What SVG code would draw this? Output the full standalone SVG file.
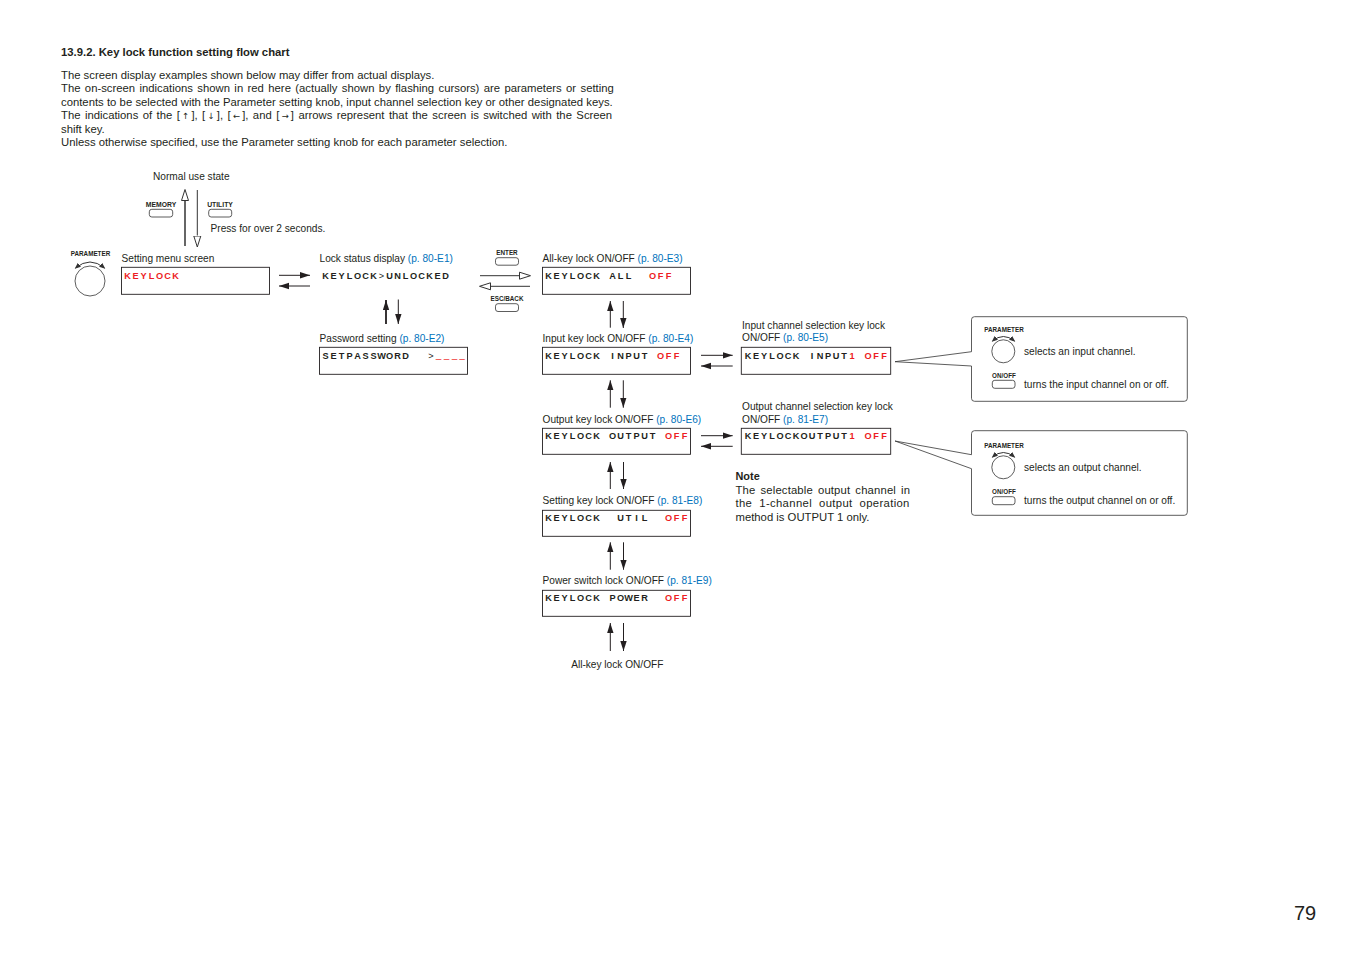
<svg xmlns="http://www.w3.org/2000/svg" width="1350" height="954" viewBox="0 0 1350 954">
<style>
text{font-family:"Liberation Sans",Arial,sans-serif;fill:#231f20;font-size:10.15px}
.b{font-weight:bold}
.body{font-size:11.3px}
.ar{font-family:"DejaVu Sans",sans-serif;font-size:8.5px}
.blue{fill:#0072bc}
.red{fill:#ed1c24}
.us{fill:#ed1c24;stroke:#ed1c24;stroke-width:.35}
.lcd{font-weight:bold;font-size:9.2px;text-anchor:middle}
.thin{font-weight:normal}
.key{font-weight:bold;font-size:6.3px;text-anchor:middle}
.key2{font-size:6.8px}
.box{fill:#fff;stroke:#231f20;stroke-width:.9}
.btn{fill:#fff;stroke:#333;stroke-width:.8}
.knob{fill:#fff;stroke:#333;stroke-width:.8}
.arc{fill:none;stroke:#333;stroke-width:1;marker-start:url(#sm);marker-end:url(#sm)}
.call{fill:#fff;stroke:#333;stroke-width:.8}
.s{fill:none;stroke:#231f20;stroke-width:1;marker-end:url(#solid)}
.th{stroke-width:1.8}
.h{fill:none;stroke:#333;stroke-width:1;marker-end:url(#hollow)}
.hg{fill:none;stroke:#666;stroke-width:2;marker-end:url(#hollow)}
</style>
<defs>
<marker id="solid" markerUnits="userSpaceOnUse" markerWidth="11" markerHeight="8" refX="10" refY="3.5" orient="auto"><path d="M0,0.3 L10,3.5 L0,6.7 z" fill="#231f20"/></marker>
<marker id="hollow" markerUnits="userSpaceOnUse" markerWidth="14" markerHeight="10" refX="0" refY="4.5" orient="auto"><path d="M.5,1 L11.5,4.5 L.5,8 z" fill="#fff" stroke="#333" stroke-width="1"/></marker>
<marker id="sm" markerUnits="userSpaceOnUse" markerWidth="7" markerHeight="6" refX="5" refY="2.5" orient="auto-start-reverse"><path d="M0,0 L6,2.5 L0,5 z" fill="#333"/></marker>
</defs>
<rect width="1350" height="954" fill="#fff"/>

<g id="heading">
<text class="b body" x="61" y="55.7">13.9.2. Key lock function setting flow chart</text>
<text class="body" x="61" y="78.7">The screen display examples shown below may differ from actual displays.</text>
<text class="body" x="61" y="92" word-spacing="1.27">The on-screen indications shown in red here (actually shown by flashing cursors) are parameters or setting</text>
<text class="body" x="61" y="105.5" word-spacing=".1">contents to be selected with the Parameter setting knob, input channel selection key or other designated keys.</text>
<text class="body" x="61" y="119" word-spacing="1.3">The indications of the [<tspan class="ar" dx="2.2">↑</tspan><tspan dx="2.2">]</tspan>, [<tspan class="ar" dx="2.2">↓</tspan><tspan dx="2.2">]</tspan>, [<tspan class="ar" dx="2.2">←</tspan><tspan dx="2.2">]</tspan>, and [<tspan class="ar" dx="2.2">→</tspan><tspan dx="2.2">]</tspan> arrows represent that the screen is switched with the Screen</text>
<text class="body" x="61" y="132.5">shift key.</text>
<text class="body" x="61" y="146">Unless otherwise specified, use the Parameter setting knob for each parameter selection.</text>
</g>

<g id="connectors">
<path class="hg" d="M185,246 V201"/>
<path class="h" d="M197.3,190 V235.5"/>
<path class="s" d="M279,275.3 H310"/>
<path class="s" d="M310,286 H279"/>
<path class="s th" d="M386,324 V300"/>
<path class="s" d="M398.3,299.5 V324"/>
<path class="h" d="M480,275.7 H519"/>
<path class="h" d="M530,286.3 H491"/>
<path class="s" d="M610.3,327.7 V301"/>
<path class="s" d="M623.3,301 V328"/>
<path class="s" d="M610.3,407.7 V380.3"/>
<path class="s" d="M623.3,380.3 V407.7"/>
<path class="s" d="M610.3,489 V462"/>
<path class="s" d="M623.5,462 V489"/>
<path class="s" d="M610.3,569.7 V542.3"/>
<path class="s" d="M623.5,542.3 V569.7"/>
<path class="s" d="M610.3,651 V623"/>
<path class="s" d="M623.5,623 V651"/>
<path class="s" d="M701,355.3 H732.7"/>
<path class="s" d="M732.7,366 H701"/>
<path class="s" d="M701,435.7 H732.7"/>
<path class="s" d="M732.7,446.3 H701"/>
</g>

<g id="normal-state"><text x="153" y="180">Normal use state</text></g>
<g id="memory-key"><text class="key key2" x="161" y="206.7">MEMORY</text><rect class="btn" x="149.3" y="209.3" width="23.4" height="7.7" rx="2.5"/></g>
<g id="utility-key"><text class="key key2" x="220" y="206.7">UTILITY</text><rect class="btn" x="208.7" y="209.3" width="23" height="7.7" rx="2.5"/></g>
<g id="press-note"><text x="210.5" y="232">Press for over 2 seconds.</text></g>
<g id="parameter-knob"><text class="key" x="90.5" y="255.7">PARAMETER</text><path class="arc" d="M75.5,268 Q90,256 104.5,268"/><circle class="knob" cx="90" cy="281" r="15"/></g>

<g id="setting-menu">
<text x="121.5" y="261.7">Setting menu screen</text>
<rect class="box" x="121.5" y="267.3" width="148" height="27"/>
<text class="lcd red" y="278.5" x="127.5 135.5 143.5 151.5 159.5 167.5 175.5">KEYLOCK</text>
</g>
<g id="lock-status">
<text x="319.5" y="261.7">Lock status display <tspan class="blue">(p. 80-E1)</tspan></text>
<text class="lcd" y="278.5" x="325.5 333.5 341.5 349.5 357.5 365.5 373.5 381.5 389.5 397.5 405.5 413.5 421.5 429.5 437.5 445.5">KEYLOCK<tspan class="thin">&gt;</tspan>UNLOCKED</text>
</g>
<g id="password">
<text x="319.5" y="341.7">Password setting <tspan class="blue">(p. 80-E2)</tspan></text>
<rect class="box" x="319.5" y="347.3" width="148" height="27"/>
<text class="lcd" y="358.8" x="325.5 333.5 341.5 349.5 357.5 365.5 373.5 381.5 389.5 397.5 405.5 417 431 438.5 446.5 454.5 462">SETPASSWORD <tspan class="thin">&gt;</tspan><tspan class="us">____</tspan></text>
</g>
<g id="enter-key"><text class="key" x="507" y="254.7">ENTER</text><rect class="btn" x="495.5" y="257.7" width="23" height="7.5" rx="2.5"/></g>
<g id="esc-key"><text class="key" x="507" y="300.7">ESC/BACK</text><rect class="btn" x="495.5" y="303.7" width="23" height="7.8" rx="2.5"/></g>

<g id="all-key">
<text x="542.5" y="261.7">All-key lock ON/OFF <tspan class="blue">(p. 80-E3)</tspan></text>
<rect class="box" x="542.5" y="267.3" width="148" height="27"/>
<text class="lcd" y="278.5" x="548.5 556.5 564.5 572.5 580.5 588.5 596.5 604.5 612.5 620.5 628.5 640 652.5 660.5 668.5">KEYLOCK ALL <tspan class="red">OFF</tspan></text>
</g>
<g id="input-key">
<text x="542.5" y="341.7">Input key lock ON/OFF <tspan class="blue">(p. 80-E4)</tspan></text>
<rect class="box" x="542.5" y="347.3" width="148" height="27"/>
<text class="lcd" y="358.5" x="548.5 556.5 564.5 572.5 580.5 588.5 596.5 604.5 612.5 620.5 628.5 636.5 644.5 652.5 660.5 668.5 676.5">KEYLOCK INPUT <tspan class="red">OFF</tspan></text>
</g>
<g id="output-key">
<text x="542.5" y="422.8">Output key lock ON/OFF <tspan class="blue">(p. 80-E6)</tspan></text>
<rect class="box" x="542.5" y="428.3" width="148" height="26"/>
<text class="lcd" y="439.2" x="548.5 556.5 564.5 572.5 580.5 588.5 596.5 604.5 612.5 620.5 628.5 636.5 644.5 652.5 660.5 668.5 676.5 684.5">KEYLOCK OUTPUT <tspan class="red">OFF</tspan></text>
</g>
<g id="setting-key">
<text x="542.5" y="504">Setting key lock ON/OFF <tspan class="blue">(p. 81-E8)</tspan></text>
<rect class="box" x="542.5" y="510.3" width="148" height="26"/>
<text class="lcd" y="520.7" x="548.5 556.5 564.5 572.5 580.5 588.5 596.5 608 620.5 628.5 636.5 644.5 656 668.5 676.5 684.5">KEYLOCK UTIL <tspan class="red">OFF</tspan></text>
</g>
<g id="power-key">
<text x="542.5" y="583.7">Power switch lock ON/OFF <tspan class="blue">(p. 81-E9)</tspan></text>
<rect class="box" x="542.5" y="590.3" width="148" height="26"/>
<text class="lcd" y="600.7" x="548.5 556.5 564.5 572.5 580.5 588.5 596.5 604.5 612.5 620.5 628.5 636.5 644.5 656 668.5 676.5 684.5">KEYLOCK POWER <tspan class="red">OFF</tspan></text>
</g>
<g id="all-key-return"><text x="617.3" y="667.5" text-anchor="middle">All-key lock ON/OFF</text></g>

<g id="input-channel">
<text x="742" y="329.3">Input channel selection key lock</text>
<text x="742" y="341.3">ON/OFF <tspan class="blue">(p. 80-E5)</tspan></text>
<rect class="box" x="741.3" y="347.3" width="149.4" height="27"/>
<text class="lcd" y="358.5" x="748 756 764 772 780 788 796 804 812 820 828 836 844 852 860 868 876 884">KEYLOCK INPUT<tspan class="red">1 OFF</tspan></text>
</g>
<g id="output-channel">
<text x="742" y="409.9">Output channel selection key lock</text>
<text x="742" y="422.8">ON/OFF <tspan class="blue">(p. 81-E7)</tspan></text>
<rect class="box" x="741.3" y="428.3" width="149.4" height="26"/>
<text class="lcd" y="439.2" x="748 756 764 772 780 788 796 804 812 820 828 836 844 852 860 868 876 884">KEYLOCKOUTPUT<tspan class="red">1 OFF</tspan></text>
</g>

<g id="note">
<text class="b" x="735.5" y="479.8" style="font-size:10.9px">Note</text>
<text class="body" x="735.5" y="493.7" letter-spacing=".15" word-spacing="1.8">The selectable output channel in</text>
<text class="body" x="735.5" y="507" letter-spacing=".35" word-spacing="3.5">the 1-channel output operation</text>
<text class="body" x="735.5" y="520.7">method is OUTPUT 1 only.</text>
</g>

<g id="input-callout">
<path class="call" d="M974.5,316.7 H1184.3 a3,3 0 0 1 3,3 V398.3 a3,3 0 0 1 -3,3 H974.5 a3,3 0 0 1 -3,-3 V366 L895,361.7 L971.5,351.7 V319.7 a3,3 0 0 1 3,-3 z"/>
<text class="key" x="1004" y="331.7">PARAMETER</text>
<path class="arc" d="M992.5,341 Q1003.3,332 1014.5,341"/>
<circle class="knob" cx="1003.3" cy="351.3" r="11.5"/>
<text x="1024" y="354.8">selects an input channel.</text>
<text class="key" x="1004" y="377.5">ON/OFF</text>
<rect class="btn" x="992.3" y="380.3" width="22.7" height="8" rx="2.5"/>
<text x="1024" y="388.3">turns the input channel on or off.</text>
</g>
<g id="output-callout">
<path class="call" d="M974.5,430.7 H1184.3 a3,3 0 0 1 3,3 V512.3 a3,3 0 0 1 -3,3 H974.5 a3,3 0 0 1 -3,-3 V468.7 L895,441 L971.5,454.7 V433.7 a3,3 0 0 1 3,-3 z"/>
<text class="key" x="1004" y="447.7">PARAMETER</text>
<path class="arc" d="M992.5,457 Q1003.3,448 1014.5,457"/>
<circle class="knob" cx="1003.3" cy="467.3" r="11.5"/>
<text x="1024" y="470.8">selects an output channel.</text>
<text class="key" x="1004" y="493.5">ON/OFF</text>
<rect class="btn" x="992.3" y="496.7" width="22.7" height="8" rx="2.5"/>
<text x="1024" y="504.3">turns the output channel on or off.</text>
</g>

<g id="page-number"><text x="1294" y="920" style="font-size:20px">79</text></g>
</svg>
